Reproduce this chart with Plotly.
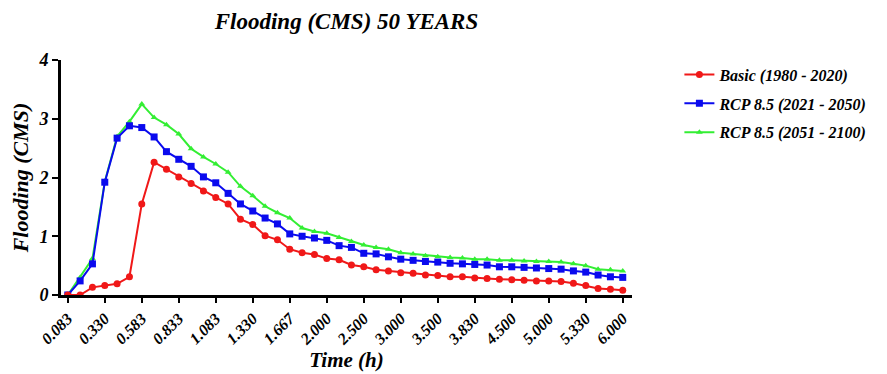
import plotly.graph_objects as go

time_h = ["0.083","0.167","0.250","0.330","0.417","0.500","0.583","0.667","0.750","0.833",
          "0.917","1.000","1.083","1.167","1.250","1.330","1.417","1.500","1.667","1.750",
          "1.833","2.000","2.167","2.330","2.500","2.667","2.830","3.000","3.167","3.330",
          "3.500","3.583","3.667","3.830","4.000","4.250","4.500","4.667","4.830","5.000",
          "5.083","5.167","5.330","5.500","5.750","6.000"]

tick_labels = ["0.083","0.330","0.583","0.833","1.083","1.330","1.667","2.000",
               "2.500","3.000","3.500","3.830","4.500","5.000","5.330","6.000"]

basic = [0.00,0.00,0.13,0.16,0.19,0.31,1.55,2.26,2.14,2.01,
         1.90,1.77,1.66,1.55,1.29,1.20,1.01,0.94,0.78,0.72,
         0.69,0.62,0.60,0.51,0.48,0.43,0.41,0.38,0.37,0.34,
         0.33,0.31,0.31,0.29,0.28,0.27,0.26,0.25,0.24,0.24,
         0.23,0.20,0.16,0.11,0.10,0.08]

rcp_2050 = [0.00,0.24,0.53,1.92,2.67,2.88,2.85,2.69,2.44,2.31,
            2.19,2.01,1.91,1.73,1.55,1.43,1.31,1.21,1.04,1.00,
            0.97,0.93,0.84,0.81,0.71,0.70,0.65,0.61,0.59,0.57,
            0.56,0.54,0.53,0.52,0.51,0.48,0.48,0.47,0.46,0.45,
            0.44,0.41,0.39,0.34,0.31,0.30]

rcp_2100 = [0.00,0.30,0.62,1.93,2.70,2.95,3.25,3.02,2.90,2.74,
            2.49,2.35,2.23,2.09,1.85,1.69,1.51,1.40,1.31,1.14,
            1.08,1.05,0.98,0.91,0.85,0.81,0.78,0.72,0.70,0.67,
            0.65,0.64,0.63,0.61,0.61,0.59,0.59,0.58,0.57,0.57,
            0.56,0.53,0.50,0.44,0.43,0.41]

y_ticks = [0, 1, 2, 3, 4]

FONT = "Liberation Serif"

fig = go.Figure()
fig.add_trace(go.Scatter(x=time_h, y=rcp_2100, mode="lines+markers", name="RCP 8.5 (2051 - 2100)",
                         legendgroup="c", legendrank=3,
                         line=dict(color="#33ee33", width=2),
                         marker=dict(symbol="triangle-up", size=6, color="#33ee33")))
fig.add_trace(go.Scatter(x=time_h, y=rcp_2050, mode="lines+markers", name="RCP 8.5 (2021 - 2050)",
                         legendgroup="b", legendrank=2,
                         line=dict(color="#0a0aee", width=2),
                         marker=dict(symbol="square", size=7, color="#0a0aee")))
fig.add_trace(go.Scatter(x=time_h, y=basic, mode="lines+markers", name="Basic (1980 - 2020)",
                         legendgroup="a", legendrank=1,
                         line=dict(color="#f01818", width=2),
                         marker=dict(symbol="circle", size=7, color="#f01818")))

fig.update_layout(
    width=887, height=374,
    margin=dict(l=61, r=255, t=60, b=79, autoexpand=False),
    paper_bgcolor="white", plot_bgcolor="white",
    font=dict(family=FONT, color="black"),
    title=dict(text="<b><i>Flooding (CMS) 50 YEARS</i></b>", x=0.5, xref="paper",
               y=0.945, yref="container", xanchor="center", yanchor="middle",
               font=dict(family=FONT, size=23, color="black")),
    showlegend=True,
    legend=dict(x=1.083, y=1.01, xanchor="left", yanchor="top", traceorder="grouped",
                font=dict(family=FONT, size=16, color="black", weight="bold", style="italic"),
                tracegroupgap=5, itemwidth=30, bgcolor="rgba(0,0,0,0)"),
    xaxis=dict(type="category", categoryorder="array", categoryarray=time_h,
               range=[-0.55, 45.75], tickmode="array", tickvals=tick_labels, ticktext=tick_labels,
               tickangle=-45, showgrid=False, zeroline=False, automargin=False,
               showline=True, linecolor="black", linewidth=3,
               ticks="outside", ticklen=5, tickwidth=2, tickcolor="black",
               tickfont=dict(family=FONT, size=16, color="black", weight="bold", style="italic"),
               title=dict(text="<b><i>Time (h)</i></b>", font=dict(family=FONT, size=21), standoff=2)),
    yaxis=dict(range=[0, 4], tickmode="array", tickvals=y_ticks, showgrid=False, zeroline=False,
               automargin=False,
               showline=True, linecolor="black", linewidth=3,
               ticks="outside", ticklen=6, tickwidth=2, tickcolor="black",
               tickfont=dict(family=FONT, size=18, color="black", weight="bold", style="italic"),
               title=dict(text="<b><i>Flooding (CMS)</i></b>", font=dict(family=FONT, size=22), standoff=4)),
)

fig.write_html("out.html", config={"displayModeBar": False},
               post_script="document.body.style.margin='0';")
